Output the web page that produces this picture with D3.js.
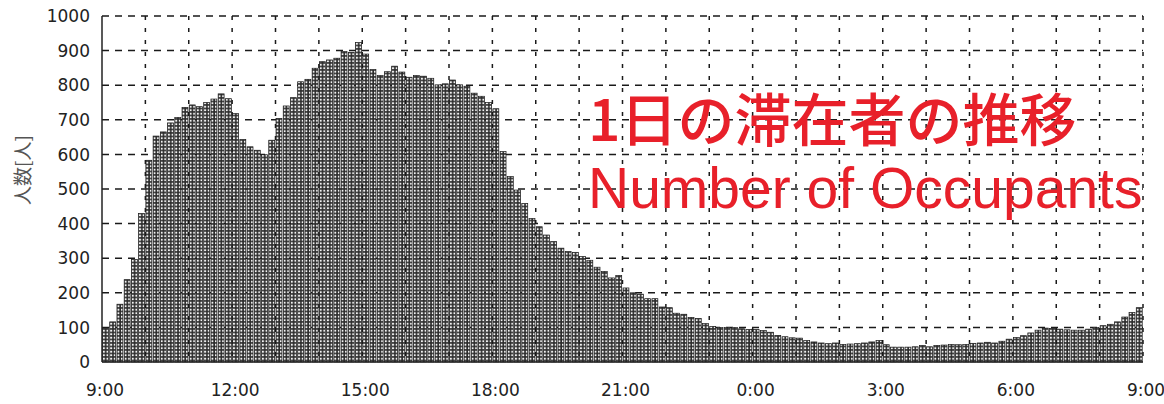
<!DOCTYPE html>
<html>
<head>
<meta charset="utf-8">
<script src="https://cdn.jsdelivr.net/npm/d3@7"></script>
<style>
  body { margin: 0; background: #fff; }
  svg { display: block; }
</style>
</head>
<body>
<div id="viz"></div>
<script>
// occupants per 10 minutes, 9:00 -> 9:00 next day (144 bars)
var occupants = [
  97, 116, 167, 238, 296, 429, 583, 653, 665, 691, 707, 736,
  743, 738, 750, 760, 775, 761, 718, 643, 622, 612, 599, 641,
  704, 740, 764, 810, 817, 849, 868, 873, 878, 897, 895, 923,
  890, 845, 828, 839, 855, 838, 823, 828, 826, 820, 801, 804,
  815, 801, 797, 777, 768, 750, 732, 608, 536, 497, 458, 415,
  391, 367, 348, 329, 319, 317, 305, 294, 274, 262, 243, 250,
  214, 200, 196, 183, 183, 159, 157, 141, 138, 129, 126, 111,
  103, 100, 100, 100, 96, 94, 94, 91, 86, 77, 73, 70,
  69, 62, 58, 55, 53, 55, 51, 52, 53, 55, 58, 62,
  50, 43, 43, 43, 44, 48, 44, 48, 49, 51, 50, 51,
  54, 55, 57, 55, 60, 66, 71, 76, 84, 92, 98, 97,
  95, 93, 92, 92, 95, 100, 105, 109, 116, 130, 143, 157
]
var tickLabels = ['9:00', '12:00', '15:00', '18:00', '21:00', '0:00', '3:00', '6:00', '9:00']
var yTicks = [0, 100, 200, 300, 400, 500, 600, 700, 800, 900, 1000]
var yTitle = '人数[人]'
var titleJa = '1日の滞在者の推移'
var titleEn = 'Number of Occupants'

var w = 1164, h = 404
var mL = 102, mR = 1143, mT = 16, mB = 362

var svg = d3.select('#viz').append('svg')
  .attr('width', w)
  .attr('height', h)

// minutes from 9:00
var x = d3.scaleLinear().domain([0, 1440]).range([mL, mR])
var y = d3.scaleLinear().domain([0, 1000]).range([mB, mT])
var step = x(10) - x(0)

// halftone-ish fill like the scanned bars
var defs = svg.append('defs')
var pat = defs.append('pattern')
  .attr('id', 'dots')
  .attr('patternUnits', 'userSpaceOnUse')
  .attr('x', mL)
  .attr('y', 0)
  .attr('width', step / 2)
  .attr('height', 3.5)
pat.append('rect').attr('width', step / 2).attr('height', 3.5).attr('fill', '#2b2b2b')
pat.append('rect').attr('x', 0.9).attr('y', 0.7).attr('width', 2).attr('height', 2).attr('fill', '#f2f2f2')

// grid
svg.append('g')
  .selectAll('line')
  .data(yTicks.filter(d => d > 0))
  .enter()
  .append('line')
  .attr('x1', mL).attr('x2', mR)
  .attr('y1', d => y(d)).attr('y2', d => y(d))
  .attr('stroke', '#1a1a1a')
  .attr('stroke-width', 1.5)
  .attr('stroke-dasharray', '7,6')

svg.append('g')
  .selectAll('line')
  .data(d3.range(60, 1441, 60))
  .enter()
  .append('line')
  .attr('x1', d => x(d)).attr('x2', d => x(d))
  .attr('y1', mT).attr('y2', mB)
  .attr('stroke', '#1a1a1a')
  .attr('stroke-width', 1.5)
  .attr('stroke-dasharray', '4,8')

// bars
svg.append('g')
  .selectAll('rect')
  .data(occupants)
  .enter()
  .append('rect')
  .attr('x', (d, i) => x(i * 10) + 0.5)
  .attr('y', d => y(d))
  .attr('width', step - 1.3)
  .attr('height', d => y(0) - y(d))
  .attr('fill', 'url(#dots)')
  .attr('stroke', '#1a1a1a')
  .attr('stroke-width', 0.7)

// axes lines
svg.append('line')
  .attr('x1', mL).attr('x2', mL)
  .attr('y1', mT).attr('y2', mB)
  .attr('stroke', '#222').attr('stroke-width', 1.5)
svg.append('line')
  .attr('x1', mL).attr('x2', mR)
  .attr('y1', mB).attr('y2', mB)
  .attr('stroke', '#222').attr('stroke-width', 1.5)

// y labels
svg.append('g')
  .selectAll('text')
  .data(yTicks)
  .enter()
  .append('text')
  .attr('x', 90)
  .attr('y', d => y(d))
  .attr('dy', '0.36em')
  .attr('text-anchor', 'end')
  .attr('font-family', 'DejaVu Sans, Verdana, sans-serif')
  .attr('font-size', 17)
  .attr('fill', '#222')
  .text(d => d)

// x labels
svg.append('g')
  .selectAll('text')
  .data(tickLabels)
  .enter()
  .append('text')
  .attr('x', (d, i) => x(i * 180) + 3)
  .attr('y', 396)
  .attr('text-anchor', 'middle')
  .attr('font-family', 'DejaVu Sans, Verdana, sans-serif')
  .attr('font-size', 17)
  .attr('fill', '#222')
  .text(d => d)

svg.append('text')
  .attr('transform', 'translate(30,170) rotate(-90)')
  .attr('text-anchor', 'middle')
  .attr('font-family', 'Noto Sans CJK JP, sans-serif')
  .attr('font-size', 19)
  .attr('fill', '#555')
  .text(yTitle)

// red overlay titles
svg.append('text')
  .attr('x', 588)
  .attr('y', 141)
  .attr('font-family', 'Noto Sans CJK JP, sans-serif')
  .attr('font-weight', 500)
  .attr('font-size', 57)
  .attr('fill', '#e8202a')
  .text(titleJa)

svg.append('text')
  .attr('x', 588)
  .attr('y', 208)
  .attr('font-family', 'Liberation Sans, Arial, sans-serif')
  .attr('font-size', 57)
  .attr('fill', '#e8202a')
  .text(titleEn)
</script>
</body>
</html>
